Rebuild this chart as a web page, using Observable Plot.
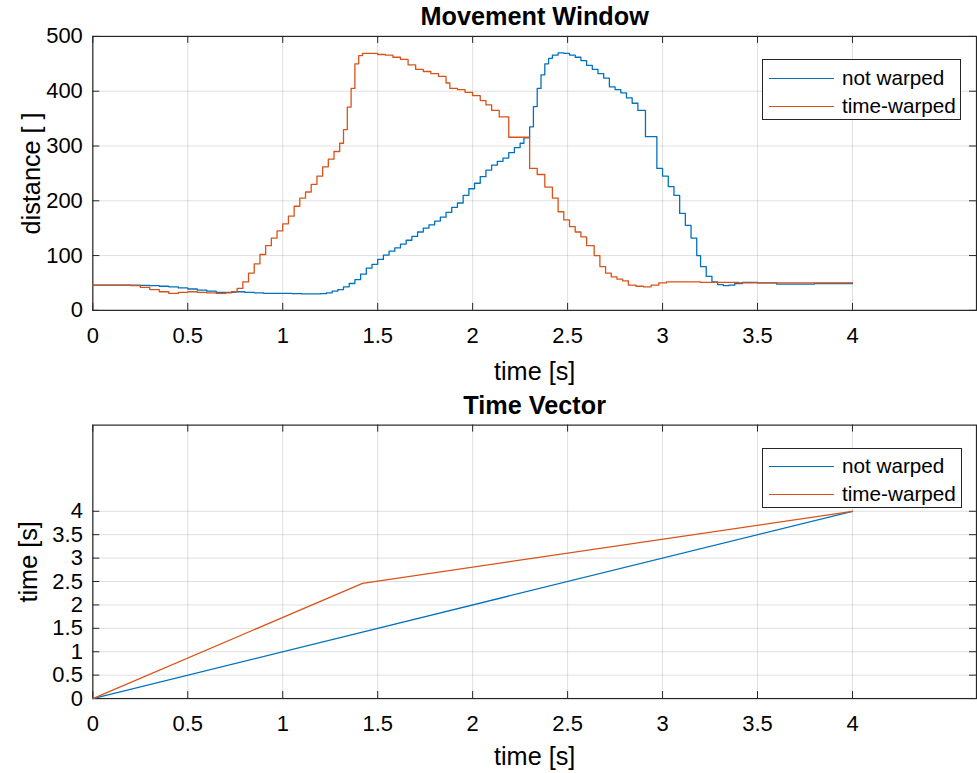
<!DOCTYPE html>
<html>
<head>
<meta charset="utf-8">
<script src="https://cdn.jsdelivr.net/npm/d3@7"></script>
<script src="https://cdn.jsdelivr.net/npm/@observablehq/plot@0.6"></script>
<style>
  html, body { margin: 0; padding: 0; background: #fff; overflow: hidden; }
  #wrap { position: relative; width: 977px; height: 773px; overflow: hidden; font-family: "Liberation Sans", Arial, Helvetica, sans-serif; }
  .panel { position: absolute; left: 0; }
  .legend { position: absolute; background: #fff; border: 1px solid #262626; box-sizing: border-box; }
  .legend .row { position: absolute; left: 0; height: 0; }
  .legend .swatch { position: absolute; left: 6px; width: 65px; height: 0; border-top: 1.3px solid; }
  .legend .lab { position: absolute; left: 79px; font-size: 20.7px; color: #000; line-height: 1; transform: translateY(-50%); white-space: nowrap; }
</style>
</head>
<body>
<div id="wrap"></div>
<script>
// ---------- data ----------
const seriesNames = ["not warped", "time-warped"];
const seriesColors = ["#0072BD", "#D95319"];

// Movement Window: distance of the not-warped signal
const tBlue = [0, 0.1, 0.2, 0.25, 0.3, 0.35, 0.4, 0.45, 0.5, 0.55, 0.6, 0.65, 0.7, 0.75, 0.8, 0.85, 0.9, 0.95, 1.0, 1.05, 1.1, 1.15, 1.2, 1.23, 1.26, 1.29, 1.32, 1.35, 1.38, 1.41, 1.44, 1.47, 1.5, 1.53, 1.56, 1.59, 1.62, 1.65, 1.68, 1.71, 1.74, 1.77, 1.8, 1.83, 1.86, 1.89, 1.92, 1.95, 1.98, 2.01, 2.04, 2.07, 2.1, 2.13, 2.16, 2.19, 2.22, 2.25, 2.27, 2.3, 2.32, 2.34, 2.36, 2.38, 2.4, 2.42, 2.45, 2.48, 2.51, 2.54, 2.57, 2.6, 2.63, 2.66, 2.69, 2.72, 2.75, 2.78, 2.81, 2.84, 2.87, 2.91, 2.97, 3.0, 3.03, 3.06, 3.09, 3.12, 3.15, 3.18, 3.2, 3.23, 3.26, 3.29, 3.32, 3.35, 3.38, 3.42, 3.46, 3.5, 3.6, 3.7, 3.8, 3.9, 4.0];
const dBlue = [46, 46, 46, 45.5, 45, 44, 43, 41, 39, 37, 35, 33, 33, 34, 33, 32, 31, 31, 31, 30.5, 30, 30, 30.5, 32, 35, 38, 43, 49, 56, 66, 77, 84, 93, 101, 108, 114, 121, 128, 135, 143, 150, 156, 163, 170, 179, 188, 196, 210, 222, 232, 244, 256, 265, 272, 278, 288, 297, 305, 315, 335, 372, 405, 430, 450, 460, 466, 470, 469, 466, 462, 456, 447, 440, 432, 424, 408, 403, 397, 388, 378, 365, 317, 259, 245, 226, 210, 177, 155, 132, 100, 80, 62, 52, 47, 45, 46, 49, 51, 51, 50, 48, 48, 49, 49, 50];

// Movement Window: distance of the time-warped signal
const tOrange = [0, 0.1, 0.2, 0.25, 0.3, 0.35, 0.4, 0.45, 0.5, 0.55, 0.6, 0.65, 0.7, 0.73, 0.76, 0.79, 0.82, 0.85, 0.88, 0.91, 0.94, 0.97, 1.0, 1.03, 1.06, 1.09, 1.12, 1.15, 1.18, 1.21, 1.24, 1.27, 1.3, 1.32, 1.34, 1.36, 1.38, 1.4, 1.42, 1.46, 1.5, 1.54, 1.58, 1.62, 1.66, 1.7, 1.74, 1.78, 1.82, 1.86, 1.88, 1.92, 1.96, 2.0, 2.04, 2.07, 2.1, 2.14, 2.19, 2.3, 2.34, 2.38, 2.42, 2.45, 2.48, 2.51, 2.54, 2.57, 2.6, 2.64, 2.67, 2.7, 2.73, 2.76, 2.79, 2.82, 2.86, 2.9, 2.94, 2.98, 3.02, 3.1, 3.2, 3.4, 3.6, 3.8, 4.0];
const dOrange = [46, 46, 45, 42, 38, 34, 31, 33, 34, 33, 32, 31, 32, 34, 40, 52, 68, 85, 102, 118, 132, 145, 158, 172, 190, 205, 216, 230, 245, 262, 276, 290, 305, 330, 371, 405, 450, 465, 469, 469, 467, 466, 462, 458, 448, 440, 436, 432, 427, 415, 405, 403, 398, 392, 383, 375, 365, 353, 316, 259, 248, 225, 205, 180, 165, 153, 143, 134, 118, 100, 80, 68, 61, 57, 54, 46, 44, 43, 46, 50, 52, 52, 51, 50, 50, 50, 50];

// Time Vector
const tKnots = [0, 1.42, 4];
const timeNotWarped = [0, 1.42, 4];
const timeWarped = [0, 2.46, 4];

// ticks / labels
const xTicks = [0, 0.5, 1, 1.5, 2, 2.5, 3, 3.5, 4];
const yTicksTop = [0, 100, 200, 300, 400, 500];
const yTicksBottom = [0, 0.5, 1, 1.5, 2, 2.5, 3, 3.5, 4];
const titles = ["Movement Window", "Time Vector"];
const xLabel = "time [s]";
const yLabels = ["distance [ ]", "time [s]"];

// ---------- drawing ----------
const FONT = '"Liberation Sans", Arial, Helvetica, sans-serif';
const INK = "#262626";
const W = 979, ML = 92.5, MR = 1;
const xMax = 4.653;
const fmt = d => String(d);

function panel({height, mt, mb, yDomain, yTicks, series, title, ylabel, titleDy, xlabDy, ylabDx}) {
  const frameH = height - mt - mb;
  const frameW = W - ML - MR;
  const tick = 7;
  const marks = [
    Plot.gridX(xTicks, {stroke: INK, strokeOpacity: 0.15}),
    Plot.gridY(yTicks, {stroke: INK, strokeOpacity: 0.15}),
    Plot.frame({stroke: INK, strokeWidth: 1.2}),
    Plot.ruleX(xTicks, {x: d => d, stroke: INK, insetTop: frameH - tick}),
    Plot.ruleX(xTicks, {x: d => d, stroke: INK, insetBottom: frameH - tick}),
    Plot.ruleY(yTicks, {y: d => d, stroke: INK, insetRight: frameW - tick}),
    Plot.ruleY(yTicks, {y: d => d, stroke: INK, insetLeft: frameW - tick}),
    Plot.axisX(xTicks, {tickSize: 0, tickPadding: 17, tickFormat: fmt, fill: "#000", label: null}),
    Plot.axisY(yTicks, {tickSize: 0, tickPadding: 10, tickFormat: fmt, fill: "#000", label: null}),
    ...series.map(s => Plot.line(s.t.map((t, i) => ({t, v: s.v[i]})), {x: "t", y: "v", stroke: s.color, strokeWidth: 1.3, curve: s.curve})),
    Plot.text([title], {frameAnchor: "top", dy: titleDy, fontSize: 25.3, fontWeight: "bold", fill: "#000", lineAnchor: "middle"}),
    Plot.text([xLabel], {frameAnchor: "bottom", dy: xlabDy, fontSize: 25.3, fill: "#000", lineAnchor: "middle"}),
    Plot.text([ylabel], {frameAnchor: "left", dx: ylabDx, rotate: -90, fontSize: 25.3, fill: "#000", lineAnchor: "middle", textAnchor: "middle"})
  ];
  return Plot.plot({
    width: W, height,
    marginLeft: ML, marginRight: MR, marginTop: mt, marginBottom: mb,
    x: {domain: [0, xMax], axis: null, label: null},
    y: {domain: yDomain, axis: null, label: null},
    style: {fontFamily: FONT, fontSize: "22px", background: "transparent", overflow: "visible", color: "#000"},
    marks
  });
}

function legend(left, top, width, height, rows) {
  const box = document.createElement("div");
  box.className = "legend";
  Object.assign(box.style, {left: left + "px", top: top + "px", width: width + "px", height: height + "px"});
  rows.forEach((r, i) => {
    const row = document.createElement("div");
    row.className = "row";
    row.style.top = r + "px";
    const sw = document.createElement("div");
    sw.className = "swatch";
    sw.style.borderTopColor = seriesColors[i];
    const lab = document.createElement("div");
    lab.className = "lab";
    lab.textContent = seriesNames[i];
    row.appendChild(sw); row.appendChild(lab);
    box.appendChild(row);
  });
  return box;
}

const wrap = document.getElementById("wrap");

const top1 = panel({
  height: 390, mt: 36, mb: 79.5, yDomain: [0, 500], yTicks: yTicksTop,
  series: [
    {t: tBlue, v: dBlue, color: seriesColors[0], curve: "step-after"},
    {t: tOrange, v: dOrange, color: seriesColors[1], curve: "step-after"}
  ],
  title: titles[0], ylabel: yLabels[0], titleDy: -19.5, xlabDy: 61.5, ylabDx: -61.5
});
top1.classList.add("panel"); top1.style.top = "0px";
wrap.appendChild(top1);

const bot = panel({
  height: 383, mt: 34.7, mb: 74.3, yDomain: [0, 5.84], yTicks: yTicksBottom,
  series: [
    {t: tKnots, v: timeNotWarped, color: seriesColors[0], curve: "linear"},
    {t: tKnots, v: timeWarped, color: seriesColors[1], curve: "linear"}
  ],
  title: titles[1], ylabel: yLabels[1], titleDy: -19.7, xlabDy: 58, ylabDx: -64
});
bot.classList.add("panel"); bot.style.top = "390px";
wrap.appendChild(bot);

wrap.appendChild(legend(762, 59, 199, 61, [17.7, 46]));
wrap.appendChild(legend(762, 447.7, 200, 60.3, [17.3, 45.3]));
</script>
</body>
</html>
